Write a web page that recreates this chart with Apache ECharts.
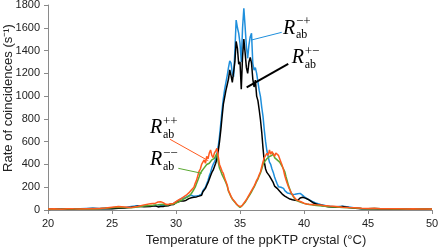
<!DOCTYPE html>
<html><head><meta charset="utf-8">
<script src="https://cdn.jsdelivr.net/npm/echarts@6/dist/echarts.min.js"></script>
<style>html,body{margin:0;padding:0;background:#fff}#c{width:441px;height:248px}</style>
</head><body><div id="c"></div>
<script>
// Temperatures (°C)
const temps = [
 20,20.5,21,21.5,22,22.5,23,23.5,24,24.5,25,25.5,26,26.5,27,27.5,
 28.0,28.1,28.2,28.3,28.4,28.5,28.6,28.7,28.8,28.9,
 29.0,29.1,29.2,29.3,29.4,29.5,29.6,29.7,29.8,29.9,
 30.0,30.1,30.2,30.3,30.4,30.5,30.6,30.7,30.8,30.9,
 31.0,31.1,31.2,31.3,31.4,31.5,31.6,31.7,31.8,31.9,
 32.0,32.1,32.2,32.3,32.4,32.5,32.6,32.7,32.8,32.9,
 33.0,33.1,33.2,33.3,33.4,33.5,33.6,33.7,33.8,33.9,
 34.0,34.1,34.2,34.3,34.4,34.5,34.6,34.7,34.8,34.9,
 35.0,35.1,35.2,35.3,35.4,35.5,35.6,35.7,35.8,35.9,
 36.0,36.1,36.2,36.3,36.4,36.5,36.6,36.7,36.8,36.9,
 37.0,37.1,37.2,37.3,37.4,37.5,37.6,37.7,37.8,37.9,
 38.0,38.1,38.2,38.3,38.4,38.5,38.6,38.7,38.8,38.9,
 39.0,39.1,39.2,39.3,39.4,39.5,39.6,39.7,39.8,39.9,
 40.0,40.1,40.2,40.3,40.4,40.5,40.6,40.7,40.8,40.9,
 41.0,41.1,41.2,41.3,41.4,41.5,41.6,41.7,41.8,41.9,
 42.0,
 42.5,43,43.5,44,44.5,45,45.5,46,46.5,47,47.5,48,48.5,49,49.5,50
];
// R_ab^{-+} (blue)
const rateMinusPlus = [
 6,9,7,10,8,11,14,16,13,15,14,18,22,30,38,33,
 35,30,38,33,40,36,32,42,37,40,
 38,45,42,50,46,55,52,62,58,66,
 72,68,85,80,100,110,104,118,112,125,
 125,118,130,122,120,128,124,132,128,135,
 140,170,165,200,230,260,300,330,370,400,
 420,450,500,560,650,760,880,980,1060,1120,
 1180,1250,1310,1290,1200,1170,1400,1668,1600,1551,
 1463,1300,1600,1771,1609,1434,1332,1450,1522,1551,
 1288,1229,1250,1200,1190,1050,995,900,820,700,
 600,520,470,420,400,360,330,290,260,230,
 205,195,200,185,190,170,160,150,140,145,
 140,135,145,138,150,142,155,146,135,128,
 115,110,100,95,88,85,78,72,65,62,
 60,55,52,48,46,45,42,38,36,32,
 30,
 28,34,26,18,14,12,13,10,10,8,9,7,8,7,9,7
];
// R_ab^{+-} (black)
const ratePlusMinus = [
 5,8,6,9,7,10,12,14,11,13,12,15,18,24,32,28,
 30,26,34,28,36,32,27,38,31,35,
 30,40,36,44,38,50,45,55,48,60,
 65,58,72,66,80,85,78,92,86,98,
 100,94,108,102,112,106,115,110,122,118,
 130,160,150,190,215,240,270,300,330,350,
 380,410,450,520,600,700,820,930,990,1050,
 1100,1150,1230,1180,1120,1110,1300,1480,1420,1280,
 1300,1060,1350,1500,1380,1250,1200,1300,1340,1290,
 1150,1080,1140,1000,960,880,790,680,540,420,
 360,330,320,300,280,260,240,210,200,190,
 180,165,150,140,128,122,117,108,100,96,
 95,90,92,86,88,84,95,105,100,112,
 110,104,100,95,86,80,70,64,60,55,
 50,46,48,42,40,38,36,32,34,28,
 24,
 24,30,22,15,12,10,12,8,9,7,8,6,7,6,8,6
];
// R_ab^{++} (orange)
const ratePlusPlus = [
 8,10,7,12,10,9,12,10,14,18,24,30,26,22,30,45,
 55,62,58,66,60,64,70,62,72,68,
 65,56,50,44,48,50,55,60,58,62,
 73,80,88,90,100,108,115,125,130,140,
 150,165,176,190,200,234,260,300,340,360,
 400,420,440,410,470,450,500,527,480,460,
 500,520,541,470,400,370,340,322,280,250,
 220,170,146,120,100,85,73,55,45,35,
 25,30,45,60,73,90,110,130,146,170,
 190,210,234,260,280,310,336,380,424,460,
 470,498,480,527,490,512,498,470,500,512,
 480,450,420,390,351,300,263,230,200,190,
 150,135,117,100,90,85,80,73,70,65,
 60,58,53,55,50,52,48,50,46,45,
 45,42,44,40,42,40,38,36,38,34,
 35,
 30,25,22,20,16,14,15,12,12,10,11,9,10,8,9,8
];
// R_ab^{--} (green)
const rateMinusMinus = [
 6,8,6,9,8,8,10,9,12,15,20,25,22,20,26,36,
 40,44,42,48,45,50,46,52,48,50,
 50,46,44,42,45,46,50,55,52,58,
 60,66,72,78,85,85,95,100,108,115,
 120,130,145,160,180,200,230,260,290,322,
 340,351,370,360,400,390,410,420,440,430,
 454,470,498,420,366,340,310,300,265,240,
 210,165,140,115,95,80,68,52,42,32,
 22,28,42,56,68,85,104,122,140,160,
 180,200,225,250,270,300,325,360,400,420,
 430,450,440,470,455,480,498,460,450,440,
 430,420,400,380,360,336,290,250,210,180,
 150,130,110,95,85,80,75,70,66,62,
 58,55,52,50,48,46,45,44,42,40,
 40,38,38,36,35,34,33,32,30,30,
 28,
 26,22,20,17,14,12,13,10,11,9,10,8,9,8,8,7
];
const xTickValues = [20,25,30,35,40,45,50];
const yTickValues = [0,200,400,600,800,1000,1200,1400,1600,1800];

const COLORS = {mp:'#1f8fdc', pm:'#000000', pp:'#ff5a1f', mm:'#5aa832'};

// label anchors in data coordinates (T, rate)
const annotations = [
  {sup:'\u2212+', at:[38.36,1595], from:[35.91,1493], to:[38.26,1560], color:COLORS.mp, w:1},
  {sup:'+\u2212', at:[39.04,1335], from:[35.52,1077], to:[38.77,1282], color:COLORS.pm, w:2},
  {sup:'++', at:[27.97,720], from:[32.52,433], to:[29.53,621], color:COLORS.pp, w:1},
  {sup:'\u2212\u2212', at:[27.97,439], from:[32.01,322], to:[30.18,366], color:COLORS.mm, w:1}
];

function pairs(arr){ return temps.map((t,i)=>[t, arr[i]]); }

const chart = echarts.init(document.getElementById('c'), null, {renderer:'canvas'});
const axisGray = '#8a8a8a';
const font = 'Liberation Sans, Arial, sans-serif';
function mkLine(name, arr, color, z){
  return {name, type:'line', data:pairs(arr), symbol:'none', showSymbol:false,
    lineStyle:{width:1.5, color}, itemStyle:{color}, z, silent:true, animation:false};
}
chart.setOption({
  animation:false,
  grid:{left:48, right:9, top:5, bottom:38, containLabel:false, outerBoundsMode:'none'},
  xAxis:{type:'value', min:20, max:50, interval:5,
    axisLine:{show:true, lineStyle:{color:axisGray, width:1}},
    axisTick:{show:true, length:4, lineStyle:{color:axisGray}},
    axisLabel:{color:'#222', fontSize:11, margin:8, fontFamily:font,
      formatter:v=>xTickValues.includes(v)?String(v):''},
    splitLine:{show:false},
    name:'Temperature of the ppKTP crystal (\u00b0C)', nameLocation:'middle', nameGap:23,
    nameTextStyle:{fontSize:13, color:'#222', fontFamily:font, padding:[0,0,0,32]}
  },
  yAxis:{type:'value', min:0, max:1800, interval:200,
    axisLine:{show:true, lineStyle:{color:axisGray, width:1}},
    axisTick:{show:true, length:4, lineStyle:{color:axisGray}},
    axisLabel:{color:'#222', fontSize:11, margin:8, fontFamily:font,
      formatter:v=>yTickValues.includes(v)?String(v):''},
    splitLine:{show:false}
  },
  series:[
    mkLine('R-+', rateMinusPlus, COLORS.mp, 2),
    mkLine('R+-', ratePlusMinus, COLORS.pm, 3),
    mkLine('R--', rateMinusMinus, COLORS.mm, 4),
    mkLine('R++', ratePlusPlus, COLORS.pp, 5)
  ]
});

const serif = 'Liberation Serif, Times New Roman, serif';
const g = [];
// y-axis title
g.push({type:'text', x:8, y:98, rotation:Math.PI/2,
  style:{text:'Rate of coincidences (s\u207b\u00b9)', font:'13px '+font, fill:'#222', textAlign:'center', textVerticalAlign:'middle'}, silent:true});
annotations.forEach(a=>{
  const p = chart.convertToPixel({gridIndex:0}, a.at);
  const f = chart.convertToPixel({gridIndex:0}, a.from);
  const t = chart.convertToPixel({gridIndex:0}, a.to);
  g.push({type:'line', shape:{x1:f[0],y1:f[1],x2:t[0],y2:t[1]}, style:{stroke:a.color, lineWidth:a.w}, z:10, silent:true});
  g.push({type:'text', x:p[0], y:p[1], style:{text:'R', font:'italic 20px '+serif, fill:'#000', textAlign:'left', textVerticalAlign:'middle'}, z:11, silent:true});
  g.push({type:'text', x:p[0]+13, y:p[1]-6.5, style:{text:a.sup, font:'13px '+serif, fill:'#000', textAlign:'left', textVerticalAlign:'middle'}, z:11, silent:true});
  g.push({type:'text', x:p[0]+13, y:p[1]+6.5, style:{text:'ab', font:'12px '+serif, fill:'#000', textAlign:'left', textVerticalAlign:'middle'}, z:11, silent:true});
});
chart.setOption({graphic:g});
</script></body></html>
